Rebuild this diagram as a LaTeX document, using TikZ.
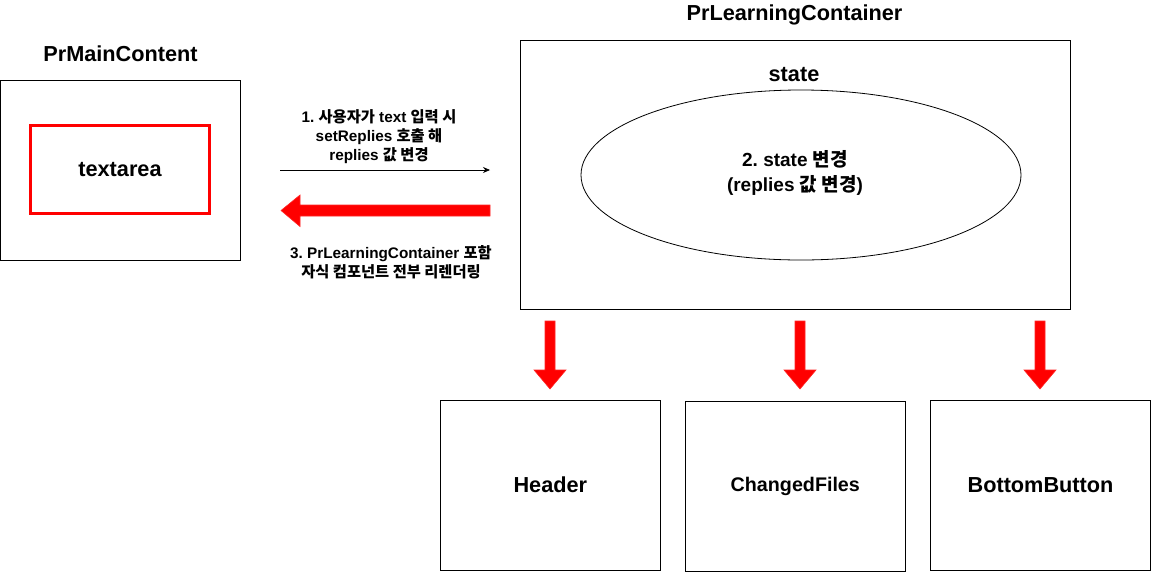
\documentclass[tikz,border=0pt]{standalone}
\usepackage{fontspec}
\setmainfont{Liberation Sans}
\newfontfamily\kr{Noto Sans CJK KR}
\newcommand{\K}[1]{{\kr\bfseries #1}}
\usetikzlibrary{shapes.geometric,arrows.meta}
\definecolor{arrred}{HTML}{FF0000}
\frenchspacing
\tikzset{
  box/.style={draw=black, line width=1pt, inner sep=0pt, minimum width=219.5pt, minimum height=170pt, font=\bfseries\fontsize{21.7}{26}\selectfont},
  title/.style={inner sep=0pt, font=\bfseries\fontsize{21.7}{26}\selectfont},
  lbl/.style={inner sep=0pt, align=center, font=\bfseries\fontsize{15.3}{19}\selectfont},
  bigarrow/.style={fill=arrred, draw=arrred!85!white, line width=0.6pt, line join=miter}
}
\begin{document}
\begin{tikzpicture}[x=1pt,y=-1pt]
\frenchspacing
\useasboundingbox (0,0) rectangle (1151,571);
% left
\node[title] (tmain) at (120.5,54) {PrMainContent};
\node[draw=black, line width=1pt, inner sep=0pt, minimum width=239.7pt, minimum height=180pt] (main) at (120.8,170) {};
\node[draw=arrred, line width=3pt, inner sep=0pt, minimum width=179pt, minimum height=88pt, font=\bfseries\fontsize{21.7}{26}\selectfont] (ta) at (120,169.5) {textarea};
% container
\node[title] (tcont) at (794.5,15) {PrLearningContainer};
\node[draw=black, line width=1pt, inner sep=0pt, minimum width=549.5pt, minimum height=269.5pt] (cont) at (795.3,175.2) {};
\node[title] (tstate) at (794,75) {state};
\node[ellipse, draw=black, line width=0.8pt, inner sep=0pt, minimum width=440pt, minimum height=170pt] (st) at (801,175) {};
\node[inner sep=0pt, align=center, font=\bfseries\fontsize{19}{25}\selectfont] (stl) at (795,172.5) {2. state \K{변경}\\(replies \K{값 변경})};
% children
\node[box] (hdr) at (550.3,485) {Header};
\node[box, font=\bfseries\fontsize{19.7}{24}\selectfont] (cf) at (795.3,486) {ChangedFiles};
\node[box] (bb) at (1040.5,485) {BottomButton};
% labels
\node[lbl] (l1) at (379,137) {1. \K{사용자가} text \K{입력 시}\\setReplies \K{호출 해}\\replies \K{값 변경}};
\node[lbl] (l3) at (391,262.5) {3. PrLearningContainer \K{포함}\\\K{자식 컴포넌트 전부 리렌더링}};
% thin arrow
\coordinate (a1s) at (280,170);
\coordinate (a1e) at (490,170);
\draw[line width=0.8pt, -{Stealth[length=7pt,width=6pt]}] (a1s) -- (a1e);
% big left arrow
\coordinate (ra) at (490,210.5);
\draw[bigarrow] (ra) ++(0,-5.5) -- (300,205) -- (300,195) -- (281,210.5) -- (300,226.5) -- (300,216) -- (490,216) -- cycle;
% down arrows
\foreach \cx/\nm in {550/hdr,800/cf,1040/bb}{
  \draw[bigarrow] (\cx-5,321) -- (\cx+5,321) -- (\cx+5,370) -- (\cx+16,370) -- (\cx,389) -- (\cx-16,370) -- (\cx-5,370) -- cycle;
}
\end{tikzpicture}
\end{document}
